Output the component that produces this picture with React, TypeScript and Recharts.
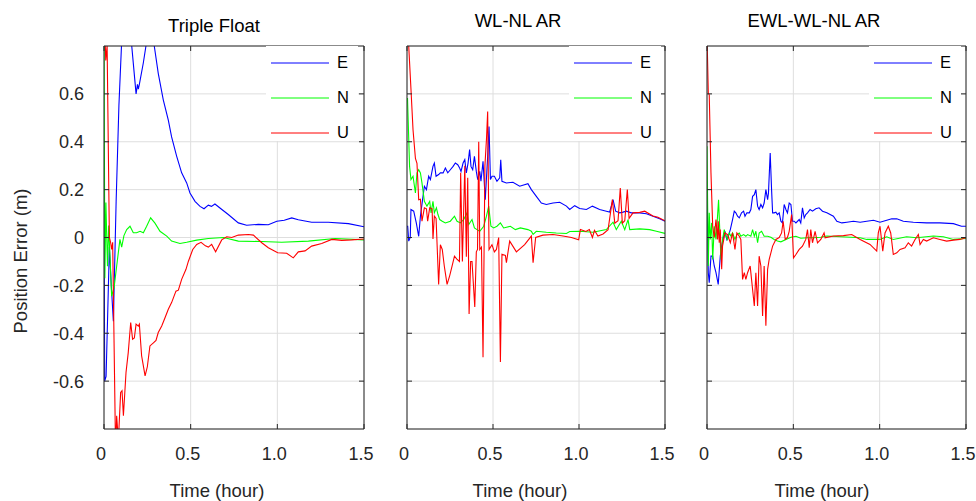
import { LineChart, Line, XAxis, YAxis, CartesianGrid, Legend } from "recharts"

type Pt = [number, number] // [time (hour), error (m)]

const xTicks = [0, 0.5, 1, 1.5]
const yTicks = [-0.6, -0.4, -0.2, 0, 0.2, 0.4, 0.6]
const seriesNames = ["E", "N", "U"]
const seriesColors = ["#0000ff", "#00ff00", "#ff0000"]
const titles = ["Triple Float", "WL-NL AR", "EWL-WL-NL AR"]
const xLabel = "Time (hour)"
const yLabel = "Position Error (m)"

// Triple Float
const floatE: Pt[] = [
  [0, 0.2], [0.004, -0.6], [0.012, -0.58], [0.022, -0.3], [0.031, -0.04], [0.042, -0.2], [0.054, -0.35],
  [0.07, 0.15], [0.086, 0.55], [0.102, 0.82], [0.13, 1.1], [0.16, 0.8], [0.185, 0.6], [0.193, 0.64],
  [0.198, 0.62], [0.204, 0.64], [0.227, 0.73], [0.242, 0.8], [0.265, 0.9], [0.29, 0.8], [0.313, 0.686],
  [0.342, 0.575], [0.371, 0.49], [0.39, 0.42], [0.419, 0.34], [0.448, 0.27], [0.477, 0.228], [0.496, 0.186],
  [0.525, 0.151], [0.554, 0.13], [0.577, 0.12], [0.602, 0.135], [0.62, 0.13], [0.64, 0.14], [0.68, 0.117],
  [0.717, 0.096], [0.775, 0.061], [0.823, 0.051], [0.89, 0.055], [0.948, 0.053], [0.997, 0.068], [1.04, 0.072],
  [1.083, 0.082], [1.121, 0.074], [1.198, 0.064], [1.294, 0.064], [1.41, 0.058], [1.5, 0.045],
]
const floatN: Pt[] = [
  [0, 0.85], [0.005, -0.17], [0.011, 0.146], [0.02, -0.12], [0.027, 0.05], [0.044, -0.245], [0.058, -0.21],
  [0.073, -0.12], [0.092, -0.008], [0.102, -0.04], [0.115, 0.008], [0.131, 0.033], [0.15, 0.047], [0.169, 0.02],
  [0.188, 0.02], [0.208, 0.026], [0.227, 0.02], [0.246, 0.047], [0.269, 0.082], [0.294, 0.06], [0.323, 0.026],
  [0.362, 0.006], [0.39, -0.015], [0.438, -0.025], [0.477, -0.02], [0.535, -0.011], [0.602, -0.004],
  [0.689, 0.0], [0.775, -0.015], [0.91, -0.017], [1.025, -0.02], [1.179, -0.015], [1.333, -0.004], [1.5, -0.01],
]
const floatU: Pt[] = [
  [0, 1.0], [0.01, 0.74], [0.018, 0.8], [0.031, 0.0], [0.038, -0.02], [0.044, -0.05], [0.05, -0.02],
  [0.067, -0.9], [0.073, -0.745], [0.083, -0.85], [0.096, -0.647], [0.104, -0.64], [0.112, -0.745],
  [0.127, -0.564], [0.14, -0.48], [0.154, -0.355], [0.165, -0.425], [0.175, -0.42], [0.185, -0.362],
  [0.198, -0.37], [0.204, -0.362], [0.217, -0.494], [0.237, -0.578], [0.25, -0.54], [0.265, -0.453],
  [0.285, -0.44], [0.3, -0.43], [0.313, -0.397], [0.333, -0.37], [0.352, -0.335], [0.371, -0.3],
  [0.39, -0.272], [0.415, -0.224], [0.429, -0.22], [0.448, -0.175], [0.473, -0.133], [0.487, -0.099],
  [0.512, -0.05], [0.535, -0.029], [0.56, -0.02], [0.585, -0.035], [0.602, -0.04], [0.621, -0.029],
  [0.644, -0.06], [0.679, -0.01], [0.708, 0.003], [0.737, 0.0], [0.775, 0.01], [0.833, 0.0125], [0.862, 0.01],
  [0.91, -0.022], [0.948, -0.043], [1.002, -0.064], [1.054, -0.066], [1.092, -0.085], [1.121, -0.06],
  [1.16, -0.056], [1.198, -0.036], [1.256, -0.025], [1.314, -0.008], [1.372, -0.012], [1.429, -0.01], [1.5, -0.006],
]

// WL-NL AR
const wlnlE: Pt[] = [
  [0, 0.047], [0.004, 0.047], [0.01, -0.015], [0.019, 0.0], [0.023, 0.117], [0.039, 0.11], [0.054, 0.061],
  [0.068, 0.005], [0.078, 0.089], [0.093, 0.172], [0.101, 0.214], [0.113, 0.2], [0.126, 0.256], [0.136, 0.242],
  [0.151, 0.297], [0.159, 0.311], [0.169, 0.256], [0.184, 0.263], [0.194, 0.27], [0.21, 0.27], [0.223, 0.29],
  [0.237, 0.27], [0.252, 0.283], [0.268, 0.297], [0.281, 0.311], [0.295, 0.304], [0.306, 0.29], [0.314, 0.276],
  [0.326, 0.311], [0.336, 0.325], [0.345, 0.27], [0.355, 0.311], [0.364, 0.367], [0.372, 0.297], [0.382, 0.283],
  [0.392, 0.339], [0.403, 0.276], [0.411, 0.242], [0.423, 0.276], [0.43, 0.235], [0.442, 0.318], [0.455, 0.158],
  [0.469, 0.339], [0.477, 0.464], [0.485, 0.242], [0.494, 0.256], [0.508, 0.256], [0.523, 0.235], [0.539, 0.249],
  [0.545, 0.325], [0.552, 0.235], [0.578, 0.228], [0.616, 0.231], [0.655, 0.214], [0.703, 0.225], [0.723, 0.2],
  [0.752, 0.172], [0.781, 0.144], [0.81, 0.138], [0.849, 0.144], [0.888, 0.147], [0.927, 0.131], [0.946, 0.117],
  [0.975, 0.133], [1.004, 0.121], [1.043, 0.117], [1.078, 0.131], [1.12, 0.117], [1.159, 0.11], [1.178, 0.106],
  [1.198, 0.158], [1.213, 0.11], [1.237, 0.103], [1.256, 0.106], [1.275, 0.11], [1.304, 0.103], [1.353, 0.103],
  [1.392, 0.099], [1.43, 0.089], [1.469, 0.078], [1.5, 0.068],
]
const wlnlN: Pt[] = [
  [0, 0.58], [0.003, 0.58], [0.015, 0.297], [0.023, 0.242], [0.035, 0.256], [0.049, 0.186], [0.058, 0.27],
  [0.068, 0.283], [0.078, 0.27], [0.087, 0.228], [0.101, 0.151], [0.116, 0.131], [0.132, 0.151], [0.14, 0.103],
  [0.151, 0.151], [0.159, 0.103], [0.171, 0.124], [0.18, 0.096], [0.19, 0.075], [0.205, 0.068], [0.223, 0.061],
  [0.252, 0.068], [0.276, 0.089], [0.291, 0.068], [0.31, 0.061], [0.33, 0.075], [0.349, 0.103], [0.359, 0.054],
  [0.378, 0.075], [0.392, 0.04], [0.407, 0.033], [0.423, 0.026], [0.446, 0.047], [0.462, 0.089], [0.475, 0.131],
  [0.488, 0.047], [0.504, 0.04], [0.523, 0.047], [0.543, 0.061], [0.562, 0.04], [0.601, 0.047], [0.63, 0.033],
  [0.659, 0.04], [0.703, 0.033], [0.723, 0.026], [0.733, 0.013], [0.752, 0.026], [0.81, 0.022], [0.868, 0.019],
  [0.927, 0.017], [0.946, 0.025], [1.004, 0.026], [1.081, 0.022], [1.159, 0.033], [1.198, 0.064], [1.217, 0.033],
  [1.246, 0.068], [1.266, 0.033], [1.285, 0.075], [1.295, 0.033], [1.353, 0.036], [1.411, 0.033], [1.45, 0.026],
  [1.5, 0.017],
]
const wlnlU: Pt[] = [
  [0, 0.85], [0.01, 0.8], [0.023, 0.62], [0.035, 0.45], [0.049, 0.33], [0.058, 0.31], [0.068, 0.158],
  [0.078, 0.16], [0.087, 0.068], [0.101, 0.124], [0.113, 0.12], [0.12, 0.068], [0.132, 0.124], [0.146, 0.12],
  [0.151, -0.006], [0.159, 0.09], [0.169, 0.08], [0.184, -0.196], [0.194, -0.03], [0.205, -0.05], [0.217, -0.12],
  [0.233, -0.196], [0.248, -0.16], [0.262, -0.12], [0.276, -0.078], [0.29, -0.09], [0.305, -0.1], [0.312, 0.27],
  [0.322, -0.1], [0.336, 0.3], [0.345, -0.08], [0.353, 0.25], [0.361, -0.32], [0.37, -0.1], [0.378, -0.1],
  [0.394, -0.29], [0.403, -0.06], [0.41, -0.05], [0.417, 0.4], [0.423, -0.05], [0.433, -0.04], [0.442, -0.5],
  [0.453, 0.3], [0.462, 0.41], [0.469, 0.526], [0.477, -0.05], [0.494, -0.03], [0.508, -0.06], [0.52, -0.05],
  [0.533, 0.0], [0.543, -0.52], [0.552, -0.07], [0.572, -0.075], [0.578, -0.105], [0.597, -0.015], [0.636, -0.06],
  [0.684, -0.03], [0.723, 0.006], [0.733, -0.105], [0.748, 0.0], [0.79, 0.01], [0.849, 0.0125], [0.907, 0.006],
  [0.956, 0.0], [0.998, -0.01], [1.008, 0.033], [1.04, 0.025], [1.06, 0.033], [1.078, 0.0], [1.09, 0.03],
  [1.11, 0.006], [1.14, 0.015], [1.169, 0.033], [1.194, 0.158], [1.208, 0.06], [1.227, 0.07], [1.24, 0.207],
  [1.252, 0.06], [1.266, 0.07], [1.281, 0.2], [1.291, 0.08], [1.314, 0.103], [1.353, 0.105], [1.382, 0.11],
  [1.43, 0.09], [1.459, 0.085], [1.5, 0.07],
]

// EWL-WL-NL AR
const ewlE: Pt[] = [
  [0, 0.2], [0.0075, -0.147], [0.013, -0.189], [0.023, -0.078], [0.033, -0.078], [0.042, -0.119], [0.052, -0.147],
  [0.065, -0.196], [0.077, -0.078], [0.085, -0.036], [0.096, 0.005], [0.104, 0.026], [0.115, -0.008], [0.123, 0.005],
  [0.135, 0.033], [0.148, 0.075], [0.158, 0.11], [0.167, 0.103], [0.177, 0.089], [0.187, 0.082], [0.2, 0.103],
  [0.212, 0.11], [0.22, 0.089], [0.231, 0.103], [0.245, 0.103], [0.254, 0.117], [0.264, 0.172], [0.274, 0.179],
  [0.283, 0.2], [0.293, 0.131], [0.302, 0.117], [0.312, 0.138], [0.322, 0.124], [0.331, 0.144], [0.341, 0.2],
  [0.351, 0.158], [0.356, 0.186], [0.366, 0.353], [0.374, 0.2], [0.38, 0.103], [0.389, 0.103], [0.399, 0.106],
  [0.408, 0.096], [0.418, 0.103], [0.428, 0.068], [0.437, 0.061], [0.447, 0.138], [0.457, 0.117], [0.466, 0.103],
  [0.476, 0.144], [0.486, 0.138], [0.495, 0.068], [0.505, 0.068], [0.515, 0.061], [0.534, 0.075], [0.543, 0.061],
  [0.553, 0.124], [0.563, 0.082], [0.572, 0.096], [0.582, 0.103], [0.597, 0.117], [0.611, 0.11], [0.63, 0.12],
  [0.649, 0.124], [0.669, 0.11], [0.694, 0.103], [0.732, 0.089], [0.752, 0.068], [0.781, 0.061], [0.81, 0.064],
  [0.848, 0.068], [0.887, 0.064], [0.925, 0.068], [0.964, 0.072], [1.002, 0.064], [1.041, 0.072], [1.07, 0.078],
  [1.099, 0.078], [1.137, 0.068], [1.195, 0.064], [1.272, 0.061], [1.349, 0.061], [1.427, 0.058], [1.474, 0.047],
  [1.5, 0.047],
]
const ewlN: Pt[] = [
  [0, 0.381], [0.0075, -0.119], [0.013, 0.103], [0.019, -0.008], [0.027, 0.061], [0.033, -0.092], [0.042, 0.047],
  [0.052, -0.008], [0.061, 0.089], [0.067, 0.158], [0.073, 0.047], [0.081, -0.092], [0.09, -0.008], [0.1, 0.033],
  [0.11, 0.005], [0.119, -0.008], [0.129, 0.019], [0.139, 0.005], [0.148, 0.019], [0.162, -0.008], [0.173, 0.012],
  [0.187, 0.019], [0.196, 0.005], [0.212, 0.012], [0.225, 0.005], [0.235, 0.012], [0.254, 0.005], [0.264, 0.033],
  [0.274, 0.005], [0.283, 0.026], [0.293, -0.022], [0.302, 0.019], [0.316, 0.026], [0.331, 0.005], [0.351, 0.005],
  [0.37, 0.001], [0.389, -0.008], [0.408, -0.015], [0.428, -0.018], [0.457, -0.008], [0.486, 0.001], [0.515, 0.005],
  [0.543, -0.003], [0.582, -0.001], [0.621, -0.001], [0.659, 0.001], [0.694, 0.006], [0.887, -0.001], [0.925, -0.008],
  [1.002, -0.008], [1.041, 0.003], [1.079, -0.008], [1.156, 0.003], [1.214, -0.001], [1.311, 0.006], [1.369, 0.003],
  [1.427, -0.008], [1.5, -0.004],
]
const ewlU: Pt[] = [
  [0, 0.85], [0.0075, 0.603], [0.013, 0.596], [0.023, 0.27], [0.033, 0.047], [0.042, 0.0], [0.052, 0.075],
  [0.061, -0.008], [0.065, 0.068], [0.071, -0.022], [0.077, 0.033], [0.085, -0.133], [0.09, -0.036], [0.104, 0.019],
  [0.119, 0.012], [0.135, -0.022], [0.148, 0.019], [0.162, -0.05], [0.173, 0.019], [0.187, 0.005], [0.196, -0.008],
  [0.206, -0.175], [0.216, -0.147], [0.225, -0.175], [0.235, -0.147], [0.25, -0.119], [0.258, -0.175],
  [0.274, -0.286], [0.283, -0.147], [0.293, -0.286], [0.302, -0.078], [0.312, -0.119], [0.322, -0.328],
  [0.331, -0.119], [0.341, -0.369], [0.351, -0.133], [0.36, -0.092], [0.37, -0.064], [0.38, -0.036], [0.399, -0.008],
  [0.418, 0.0], [0.432, 0.019], [0.441, 0.068], [0.453, -0.008], [0.466, 0.0], [0.476, 0.026], [0.49, 0.096],
  [0.501, -0.085], [0.515, -0.071], [0.534, -0.05], [0.553, -0.036], [0.572, -0.008], [0.582, 0.033],
  [0.592, -0.043], [0.601, 0.033], [0.611, -0.022], [0.626, 0.026], [0.64, -0.022], [0.659, -0.008], [0.678, 0.019],
  [0.684, -0.001], [0.732, 0.006], [0.79, 0.008], [0.838, 0.0125], [0.887, -0.008], [0.944, -0.029], [0.983, -0.057],
  [0.992, 0.019], [1.002, 0.047], [1.018, -0.057], [1.031, 0.019], [1.05, 0.047], [1.064, 0.019], [1.079, -0.071],
  [1.099, -0.064], [1.118, -0.05], [1.147, -0.043], [1.166, -0.022], [1.185, -0.036], [1.205, -0.008],
  [1.224, 0.0125], [1.234, -0.029], [1.253, -0.008], [1.272, -0.015], [1.311, -0.001], [1.349, -0.008],
  [1.388, -0.015], [1.427, -0.011], [1.465, -0.008], [1.5, -0.001],
]

const toRows = (pts: Pt[]) => pts.map(([t, v]) => ({ t, v }))
const fmt = (v: number) => (v === 0 ? "0" : v.toFixed(1))
const blank = () => ""

const AXIS = "#262626"
const FONT = '"Liberation Sans", Arial, Helvetica, sans-serif'
const Y_AXIS_W = 60

const panels = [
  { title: titles[0], series: [floatE, floatN, floatU], left: 104, width: 260, showY: true, titleX: 214, titleY: 31.5, labelX: 217 },
  { title: titles[1], series: [wlnlE, wlnlN, wlnlU], left: 407, width: 258, showY: false, titleX: 518, titleY: 26.5, labelX: 520 },
  { title: titles[2], series: [ewlE, ewlN, ewlU], left: 707, width: 259, showY: false, titleX: 814, titleY: 26.5, labelX: 822 },
]

function renderLegend(props: any) {
  const items = props.payload || []
  return (
    <div style={{ background: "#fff", paddingTop: 8, paddingLeft: 5, fontFamily: FONT }}>
      {items.map((p: any, i: number) => (
        <div
          key={p.value}
          style={{ display: "flex", alignItems: "center", height: 17, marginTop: i === 0 ? 0 : 18 }}
        >
          <svg width={58} height={4} style={{ display: "block" }}>
            <line x1={0} y1={2} x2={58} y2={2} stroke={p.color} strokeWidth={1} />
          </svg>
          <span style={{ marginLeft: 8, fontSize: 16.5, color: "#000", lineHeight: "17px" }}>{p.value}</span>
        </div>
      ))}
    </div>
  )
}

function Panel({ series, left, width, showY }: { series: Pt[][]; left: number; width: number; showY: boolean }) {
  const chartW = Y_AXIS_W + width + 10
  return (
    <div style={{ position: "absolute", left: left - Y_AXIS_W, top: 0 }}>
      <LineChart width={chartW} height={501} margin={{ top: 45, right: 0, bottom: 0, left: 0 }}>
        <CartesianGrid xAxisId="b" yAxisId="l" stroke="#dedede" fill="none" />
        <XAxis
          xAxisId="b"
          type="number"
          dataKey="t"
          domain={[0, 1.5]}
          ticks={xTicks}
          interval={0}
          allowDataOverflow
          height={72}
          tickSize={-5}
          tickMargin={23}
          stroke={AXIS}
          tick={{ fill: AXIS, fontSize: 18, dx: -3 }}
          tickFormatter={fmt}
        />
        <XAxis
          xAxisId="t"
          orientation="top"
          type="number"
          dataKey="t"
          domain={[0, 1.5]}
          ticks={xTicks}
          interval={0}
          allowDataOverflow
          height={1}
          tickSize={-5}
          stroke={AXIS}
          tickFormatter={blank}
        />
        <YAxis
          yAxisId="l"
          type="number"
          domain={[-0.8, 0.8]}
          ticks={yTicks}
          interval={0}
          allowDataOverflow
          width={Y_AXIS_W}
          tickSize={-5}
          tickMargin={25}
          stroke={AXIS}
          tick={{ fill: AXIS, fontSize: 18 }}
          tickFormatter={showY ? fmt : blank}
        />
        <YAxis
          yAxisId="r"
          orientation="right"
          type="number"
          domain={[-0.8, 0.8]}
          ticks={yTicks}
          interval={0}
          allowDataOverflow
          width={10}
          tickSize={-5}
          stroke={AXIS}
          tickFormatter={blank}
        />
        {series.map((pts, i) => (
          <Line
            key={seriesNames[i]}
            data={toRows(pts)}
            dataKey="v"
            name={seriesNames[i]}
            xAxisId="b"
            yAxisId="l"
            type="linear"
            stroke={seriesColors[i]}
            strokeWidth={1.1}
            dot={false}
            activeDot={false}
            isAnimationActive={false}
          />
        ))}
        <Legend
          layout="vertical"
          align="center"
          verticalAlign="middle"
          content={renderLegend}
          wrapperStyle={{ left: Y_AXIS_W + 162, top: 46, width: 92, height: "auto" }}
        />
      </LineChart>
    </div>
  )
}

export default function App() {
  return (
    <div
      style={{
        position: "absolute",
        left: 0,
        top: 0,
        width: 976,
        height: 501,
        background: "#fff",
        fontFamily: FONT,
        overflow: "hidden",
      }}
    >
      {panels.map((p) => (
        <Panel key={p.title} series={p.series} left={p.left} width={p.width} showY={p.showY} />
      ))}
      <svg width={976} height={501} style={{ position: "absolute", left: 0, top: 0, pointerEvents: "none" }}>
        {panels.map((p) => (
          <g key={p.title}>
            <text x={p.titleX} y={p.titleY} textAnchor="middle" fontSize={18.5} fill="#000">
              {p.title}
            </text>
            <text x={p.labelX} y={497} textAnchor="middle" fontSize={18.5} fill={AXIS}>
              {xLabel}
            </text>
          </g>
        ))}
        <text transform="translate(27,261) rotate(-90)" textAnchor="middle" fontSize={18.5} fill={AXIS}>
          {yLabel}
        </text>
      </svg>
    </div>
  )
}
